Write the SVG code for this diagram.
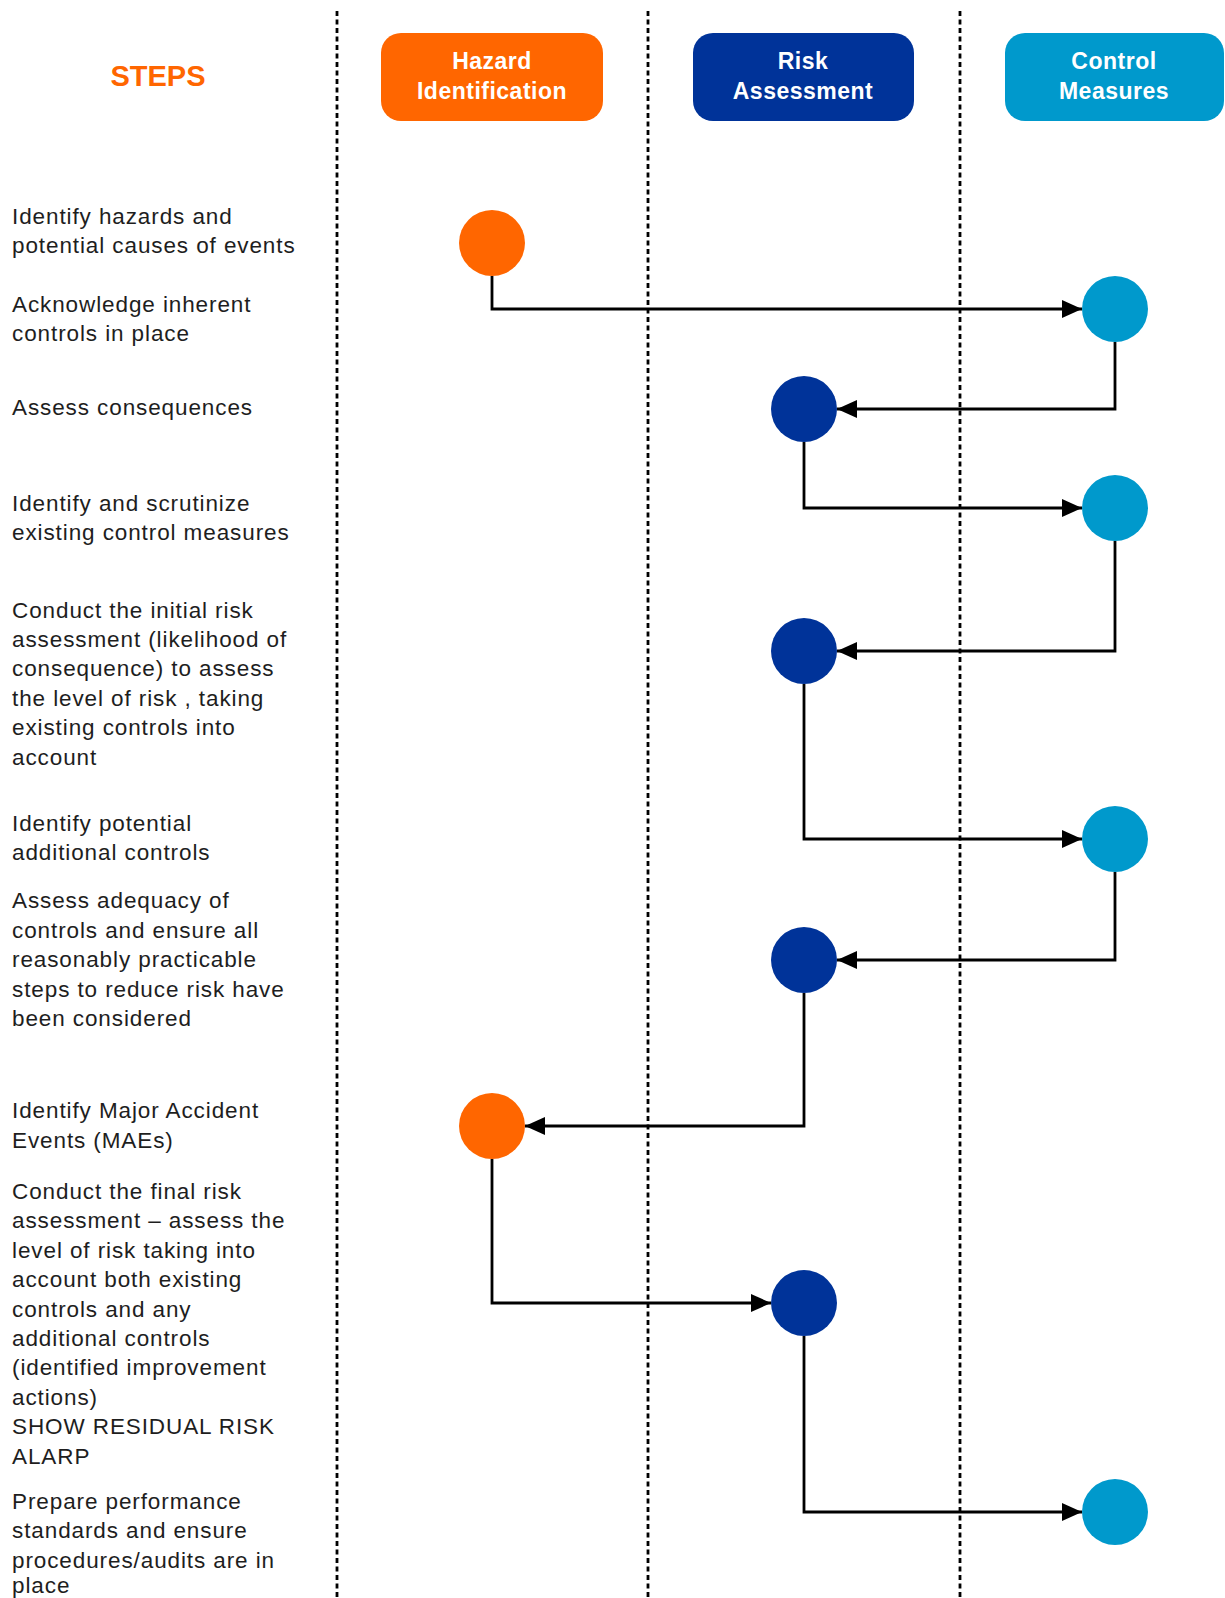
<svg xmlns="http://www.w3.org/2000/svg" width="1225" height="1598" viewBox="0 0 1225 1598">
<defs>
<marker id="arr" markerUnits="userSpaceOnUse" markerWidth="21" markerHeight="19" viewBox="0 0 21 19" refX="20" refY="9.5" orient="auto">
<path d="M0,0.5 L20,9.5 L0,18.5 Z" fill="#000"/>
</marker>
</defs>
<style>
.lane{stroke:#000;stroke-width:2.8;stroke-dasharray:5 3.5;fill:none}
.conn{stroke:#000;stroke-width:2.8;fill:none;marker-end:url(#arr)}
.step{font-family:"Liberation Sans",Arial,sans-serif;font-size:22.5px;letter-spacing:0.9px;fill:#1e1e1e}
.hdr{font-family:"Liberation Sans",Arial,sans-serif;font-size:23px;font-weight:bold;letter-spacing:0.5px;fill:#fff;text-anchor:middle}
.orange{fill:#FF6600}
.dblue{fill:#003399}
.lblue{fill:#0099CC}
</style>
<rect width="1225" height="1598" fill="#fff"/>
<g id="lanes">
<line class="lane" x1="337" y1="11" x2="337" y2="1598"/>
<line class="lane" x1="648" y1="11" x2="648" y2="1598"/>
<line class="lane" x1="960" y1="11" x2="960" y2="1598"/>
</g>
<g id="title">
<text x="158" y="86" font-family="Liberation Sans, Arial, sans-serif" font-size="29" font-weight="bold" fill="#FF6600" text-anchor="middle">STEPS</text>
</g>
<g id="hdr-hazard">
<rect class="orange" x="381" y="33" width="222" height="88" rx="20"/>
<text class="hdr" x="492" y="69">Hazard</text>
<text class="hdr" x="492" y="99">Identification</text>
</g>
<g id="hdr-risk">
<rect class="dblue" x="693" y="33" width="221" height="88" rx="20"/>
<text class="hdr" x="803" y="69">Risk</text>
<text class="hdr" x="803" y="99">Assessment</text>
</g>
<g id="hdr-control">
<rect class="lblue" x="1005" y="33" width="219" height="88" rx="20"/>
<text class="hdr" x="1114" y="69">Control</text>
<text class="hdr" x="1114" y="99">Measures</text>
</g>
<g id="steps">
<text class="step" x="12" y="223.5">Identify hazards and</text>
<text class="step" x="12" y="253">potential causes of events</text>
<text class="step" x="12" y="311.7">Acknowledge inherent</text>
<text class="step" x="12" y="341">controls in place</text>
<text class="step" x="12" y="415">Assess consequences</text>
<text class="step" x="12" y="511">Identify and scrutinize</text>
<text class="step" x="12" y="540">existing control measures</text>
<text class="step" x="12" y="617.5">Conduct the initial risk</text>
<text class="step" x="12" y="646.9">assessment (likelihood of</text>
<text class="step" x="12" y="676.3">consequence) to assess</text>
<text class="step" x="12" y="705.7">the level of risk , taking</text>
<text class="step" x="12" y="735.1">existing controls into</text>
<text class="step" x="12" y="764.5">account</text>
<text class="step" x="12" y="830.7">Identify potential</text>
<text class="step" x="12" y="860">additional controls</text>
<text class="step" x="12" y="908.3">Assess adequacy of</text>
<text class="step" x="12" y="937.7">controls and ensure all</text>
<text class="step" x="12" y="967.1">reasonably practicable</text>
<text class="step" x="12" y="996.5">steps to reduce risk have</text>
<text class="step" x="12" y="1025.9">been considered</text>
<text class="step" x="12" y="1118">Identify Major Accident</text>
<text class="step" x="12" y="1147.5">Events (MAEs)</text>
<text class="step" x="12" y="1199">Conduct the final risk</text>
<text class="step" x="12" y="1228.4">assessment – assess the</text>
<text class="step" x="12" y="1257.8">level of risk taking into</text>
<text class="step" x="12" y="1287.2">account both existing</text>
<text class="step" x="12" y="1316.6">controls and any</text>
<text class="step" x="12" y="1346">additional controls</text>
<text class="step" x="12" y="1375.4">(identified improvement</text>
<text class="step" x="12" y="1404.8">actions)</text>
<text class="step" x="12" y="1434.2">SHOW RESIDUAL RISK</text>
<text class="step" x="12" y="1463.6">ALARP</text>
<text class="step" x="12" y="1509">Prepare performance</text>
<text class="step" x="12" y="1538.4">standards and ensure</text>
<text class="step" x="12" y="1567.8">procedures/audits are in</text>
<text class="step" x="12" y="1592.5">place</text>
</g>
<g id="connectors">
<path class="conn" d="M492 276 V309 H1082"/>
<path class="conn" d="M1115 342 V409 H837"/>
<path class="conn" d="M804 442 V508 H1082"/>
<path class="conn" d="M1115 541 V651 H837"/>
<path class="conn" d="M804 684 V839 H1082"/>
<path class="conn" d="M1115 872 V960 H837"/>
<path class="conn" d="M804 993 V1126 H525"/>
<path class="conn" d="M492 1159 V1303 H771"/>
<path class="conn" d="M804 1336 V1512 H1082"/>
</g>
<g id="n1"><circle class="orange" cx="492" cy="243" r="33"/></g>
<g id="n2"><circle class="lblue" cx="1115" cy="309" r="33"/></g>
<g id="n3"><circle class="dblue" cx="804" cy="409" r="33"/></g>
<g id="n4"><circle class="lblue" cx="1115" cy="508" r="33"/></g>
<g id="n5"><circle class="dblue" cx="804" cy="651" r="33"/></g>
<g id="n6"><circle class="lblue" cx="1115" cy="839" r="33"/></g>
<g id="n7"><circle class="dblue" cx="804" cy="960" r="33"/></g>
<g id="n8"><circle class="orange" cx="492" cy="1126" r="33"/></g>
<g id="n9"><circle class="dblue" cx="804" cy="1303" r="33"/></g>
<g id="n10"><circle class="lblue" cx="1115" cy="1512" r="33"/></g>
</svg>
